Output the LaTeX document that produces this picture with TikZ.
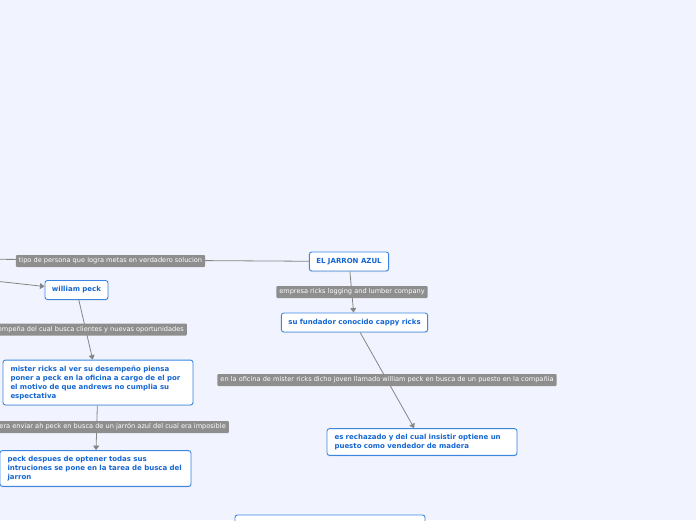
\documentclass[tikz,border=0pt]{standalone}
\usepackage{fontspec}
\setmainfont{DejaVu Sans}
\usepackage{xcolor}
\usetikzlibrary{arrows.meta,shadows}
\definecolor{mmbg}{HTML}{F1F4FE}
\definecolor{mmblue}{HTML}{3A86E2}
\definecolor{mmtext}{HTML}{1466D2}
\definecolor{mmgray}{HTML}{8E8E8E}
\definecolor{mmline}{HTML}{858585}

\begin{document}
\begin{tikzpicture}[x=1pt,y=-1pt,font=\fontsize{6.6}{9}\selectfont]
    \tikzstyle{t}=[draw=mmblue,line width=0.9pt,rounded corners=2.5pt,fill=white,text=mmtext,font=\fontsize{7}{9}\selectfont\bfseries,minimum height=19pt,inner xsep=7pt,drop shadow={shadow xshift=0.4pt,shadow yshift=-1pt,opacity=0.2}]
    \tikzstyle{m}=[t,align=left,text width=175pt,inner xsep=7.5pt,inner ysep=5.5pt]
    \tikzstyle{l}=[fill=mmgray,text=white,rounded corners=1pt,inner xsep=3pt,inner ysep=0pt,minimum height=12pt]
    \tikzstyle{e}=[draw=mmline,line width=0.8pt]
    \tikzstyle{a}=[e,-{Triangle[width=6pt,length=4.5pt]}]
    \fill[mmbg] (0,0) rectangle (696,520);
    \useasboundingbox (0,0) rectangle (696,520);
    \coordinate (raiz) at (-128,258.5);
    \coordinate (otro) at (-60,275);
    \node[t] (jarron) at (349,261.5) {EL JARRON AZUL};
    \node[t] (peck)   at (76.5,290)  {william peck};
    \node[t] (fund)   at (354.5,322.5) {su fundador conocido cappy ricks};
    \node[m] (mister) at (98,382.5)  {mister ricks al ver su desempeño piensa\\poner a peck en la oficina a cargo de el por\\el motivo de que andrews no cumplia su\\espectativa};
    \node[m,text width=176pt] (busca) at (95.5,468.5) {peck despues de optener todas sus\\intruciones se pone en la tarea de busca del\\jarron};
    \node[m] (rechaz) at (422,442)  {es rechazado y del cual insistir optiene un\\puesto como vendedor de madera};
    \node[t,anchor=north,minimum width=190pt,minimum height=30pt] (abajo) at (330,514.5) {};
    \draw[e] (jarron) -- (raiz);
    \draw[a] (otro) -- (peck);
    \draw[a] (jarron) -- (fund);
    \draw[a] (peck) -- (mister);
    \draw[a] (mister) -- (busca);
    \draw[a] (fund) -- (rechaz);
    \node[l] (ltipo) at (110.5,261) {tipo de persona que logra metas en verdadero solucion};
    \node[l] (lempresa) at (352,292) {empresa ricks logging and lumber company};
    \node[l,anchor=east] (lbusca) at (187,329.5) {empeña del cual busca clientes y nuevas oportunidades};
    \node[l,anchor=east] (lenviar) at (229,427) {era enviar ah peck en busca de un jarrón azul del cual era imposible};
    \node[l] (loficina) at (387,380) {en la oficina de mister ricks dicho joven llamado william peck en busca de un puesto en la compañia};
\end{tikzpicture}
\end{document}
